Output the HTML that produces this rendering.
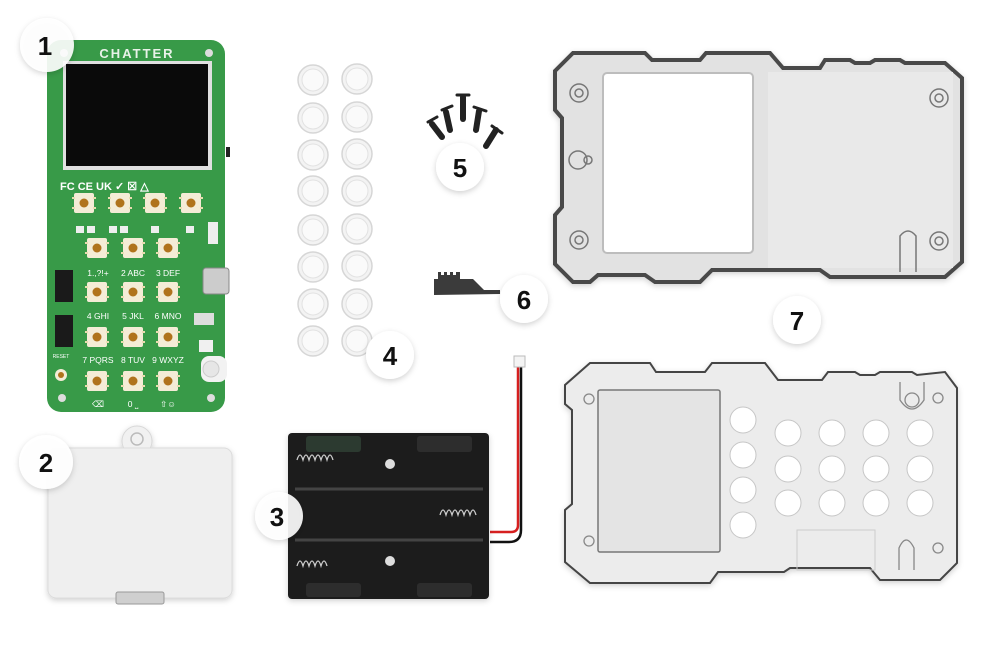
<!DOCTYPE html>
<html><head><meta charset="utf-8"><style>
html,body{margin:0;padding:0;background:#fff;width:1000px;height:649px;overflow:hidden}
svg{display:block;font-family:"Liberation Sans",sans-serif}
</style></head><body>
<svg width="1000" height="649" viewBox="0 0 1000 649" xmlns="http://www.w3.org/2000/svg">
<defs>
<filter id="sh" x="-30%" y="-30%" width="160%" height="160%"><feDropShadow dx="0" dy="2" stdDeviation="3" flood-color="#000" flood-opacity="0.18"/></filter>
<g id="btn"><rect x="-10" y="-10" width="20" height="20" rx="2" fill="#f4ecd6"/><rect x="-12" y="-6" width="3" height="2" fill="#e8dcb0"/><rect x="9" y="-6" width="3" height="2" fill="#e8dcb0"/><rect x="-12" y="4" width="3" height="2" fill="#e8dcb0"/><rect x="9" y="4" width="3" height="2" fill="#e8dcb0"/><circle r="4.5" fill="#b0731c"/></g>
<g id="dome"><circle r="15" fill="#f3f3f3" stroke="#d6d6d6" stroke-width="1.5"/><circle r="11" fill="#fafafa" stroke="#e2e2e2"/></g>
</defs>

<!-- PCB -->
<rect x="47" y="40" width="178" height="372" rx="14" fill="#389a48"/>
<text x="137" y="58" fill="#e8f2e8" font-size="13" font-weight="bold" text-anchor="middle" letter-spacing="2">CHATTER</text>
<circle cx="64" cy="53" r="4" fill="#ddd"/><circle cx="209" cy="53" r="4" fill="#ddd"/>
<circle cx="62" cy="398" r="4" fill="#ddd"/><circle cx="211" cy="398" r="4" fill="#ddd"/>
<rect x="63" y="61" width="149" height="109" fill="#e0e0e0"/>
<rect x="66" y="64" width="142" height="102" fill="#0a0a0a"/>
<rect x="226" y="147" width="4" height="10" fill="#222"/>
<text x="60" y="190" fill="#fff" font-size="11" font-weight="bold">FC CE UK ✓ ☒ △</text>
<use href="#btn" x="84" y="203"/><use href="#btn" x="120" y="203"/><use href="#btn" x="155" y="203"/><use href="#btn" x="191" y="203"/>
<g fill="#eee"><rect x="76" y="226" width="8" height="7"/><rect x="87" y="226" width="8" height="7"/><rect x="109" y="226" width="8" height="7"/><rect x="120" y="226" width="8" height="7"/><rect x="151" y="226" width="8" height="7"/><rect x="186" y="226" width="8" height="7"/></g>
<rect x="208" y="222" width="10" height="22" fill="#eee"/>
<g fill="#fff" font-size="8.5" text-anchor="middle">
<text x="98" y="276">1.,?!+</text><text x="133" y="276">2 ABC</text><text x="168" y="276">3 DEF</text>
<text x="98" y="319">4 GHI</text><text x="133" y="319">5 JKL</text><text x="168" y="319">6 MNO</text>
<text x="98" y="363">7 PQRS</text><text x="133" y="363">8 TUV</text><text x="168" y="363">9 WXYZ</text>
<text x="98" y="407">⌫</text><text x="133" y="407">0 ⎵</text><text x="168" y="407">⇧☺</text>
<text x="61" y="358" font-size="5">RESET</text>
</g>
<g>
<use href="#btn" x="97" y="248"/><use href="#btn" x="133" y="248"/><use href="#btn" x="168" y="248"/>
<use href="#btn" x="97" y="292"/><use href="#btn" x="133" y="292"/><use href="#btn" x="168" y="292"/>
<use href="#btn" x="97" y="337"/><use href="#btn" x="133" y="337"/><use href="#btn" x="168" y="337"/>
<use href="#btn" x="97" y="381"/><use href="#btn" x="133" y="381"/><use href="#btn" x="168" y="381"/>
</g>
<rect x="55" y="270" width="18" height="32" fill="#1a1a1a"/><rect x="55" y="315" width="18" height="32" fill="#1a1a1a"/>
<circle cx="61" cy="375" r="6" fill="#f4ecd6"/><circle cx="61" cy="375" r="3" fill="#b0731c"/>
<rect x="203" y="268" width="26" height="26" rx="3" fill="#ccc" stroke="#888"/>
<rect x="194" y="313" width="20" height="12" fill="#ddd"/>
<rect x="199" y="340" width="14" height="12" fill="#f0f0f0"/>
<rect x="201" y="356" width="26" height="26" rx="8" fill="#f2f2f2"/><circle cx="211" cy="369" r="8" fill="#e6e6e6" stroke="#ccc"/>

<!-- Cover 2 -->
<g filter="url(#sh)">
<circle cx="137" cy="441" r="15" fill="#f1f1f1" stroke="#d8d8d8"/>
<rect x="48" y="448" width="184" height="150" rx="8" fill="#efefef" stroke="#dcdcdc"/>
</g>
<circle cx="137" cy="439" r="6" fill="none" stroke="#bbb" stroke-width="1.5"/>
<rect x="116" y="592" width="48" height="12" rx="2" fill="#cfcfcf" stroke="#999"/>

<!-- Domes 4 -->
<g>
<use href="#dome" x="313" y="80"/><use href="#dome" x="357" y="79"/>
<use href="#dome" x="313" y="118"/><use href="#dome" x="357" y="117"/>
<use href="#dome" x="313" y="155"/><use href="#dome" x="357" y="154"/>
<use href="#dome" x="313" y="191"/><use href="#dome" x="357" y="191"/>
<use href="#dome" x="313" y="230"/><use href="#dome" x="357" y="229"/>
<use href="#dome" x="313" y="267"/><use href="#dome" x="357" y="266"/>
<use href="#dome" x="313" y="304"/><use href="#dome" x="357" y="304"/>
<use href="#dome" x="313" y="341"/><use href="#dome" x="357" y="341"/>
</g>

<!-- Screws 5 -->
<g stroke="#222" stroke-linecap="round">
<line x1="432" y1="124" x2="442" y2="137" stroke-width="6"/><line x1="428" y1="122" x2="437" y2="117" stroke-width="3"/>
<line x1="446" y1="112" x2="450" y2="130" stroke-width="6"/><line x1="442" y1="110" x2="452" y2="106" stroke-width="3"/>
<line x1="463" y1="97" x2="463" y2="119" stroke-width="6"/><line x1="457" y1="95" x2="469" y2="95" stroke-width="3"/>
<line x1="479" y1="111" x2="476" y2="130" stroke-width="6"/><line x1="474" y1="107" x2="486" y2="111" stroke-width="3"/>
<line x1="496" y1="130" x2="486" y2="146" stroke-width="6"/><line x1="492" y1="126" x2="502" y2="133" stroke-width="3"/>
</g>

<!-- Part 6 -->
<path d="M434 279 L438 279 L438 272 L441 272 L441 275 L444 275 L444 272 L447 272 L447 275 L450 275 L450 272 L453 272 L453 275 L456 275 L456 272 L460 272 L460 279 L473 279 L484 290 L500 290 L500 294 L434 295 Z" fill="#3b3b3b"/>

<!-- Battery holder 3 -->
<path d="M518 365 L518 525 Q518 532 511 532 L490 532" fill="none" stroke="#d61f1f" stroke-width="2.5"/>
<path d="M521 365 L521 530 Q521 542 509 542 L490 542" fill="none" stroke="#111" stroke-width="2.5"/>
<rect x="514" y="356" width="11" height="11" fill="#f4f4f4" stroke="#bbb"/>
<g filter="url(#sh)">
<rect x="288" y="433" width="201" height="166" rx="4" fill="#1c1c1c"/>
</g>
<rect x="306" y="436" width="55" height="16" rx="3" fill="#2c3a30"/>
<rect x="417" y="436" width="55" height="16" rx="3" fill="#2d2d2d"/>
<rect x="306" y="583" width="55" height="14" rx="3" fill="#2d2d2d"/>
<rect x="417" y="583" width="55" height="14" rx="3" fill="#2d2d2d"/>
<line x1="295" y1="489" x2="483" y2="489" stroke="#444" stroke-width="3"/>
<line x1="295" y1="540" x2="483" y2="540" stroke="#444" stroke-width="3"/>
<circle cx="390" cy="464" r="5" fill="#ddd"/><circle cx="390" cy="561" r="5" fill="#ddd"/>
<g fill="none" stroke="#ccc" stroke-width="1.3">
<path d="M297 460 q3 -10 6 0 q3 -10 6 0 q3 -10 6 0 q3 -10 6 0 q3 -10 6 0 q3 -10 6 0"/>
<path d="M440 515 q3 -10 6 0 q3 -10 6 0 q3 -10 6 0 q3 -10 6 0 q3 -10 6 0 q3 -10 6 0"/>
<path d="M297 566 q3 -10 6 0 q3 -10 6 0 q3 -10 6 0 q3 -10 6 0 q3 -10 6 0"/>
</g>

<!-- Top case 7 -->
<g filter="url(#sh)">
<path d="M573 53 L645 53 L652 60 L700 60 L706 53 L770 53 L783 68 L820 68 L825 60 L850 60 L855 63 L870 63 L875 60 L900 60 L905 63 L945 63 L962 78 L962 262 L945 277 L830 277 L820 270 L712 270 L700 282 L655 282 L645 275 L598 275 L590 282 L573 282 L555 264 L555 215 L562 207 L562 118 L555 110 L555 71 Z" fill="#e2e2e2" stroke="#4a4a4a" stroke-width="4"/>
</g>
<rect x="603" y="73" width="150" height="180" rx="4" fill="#fff" stroke="#bdbdbd" stroke-width="2"/>
<rect x="768" y="72" width="185" height="196" fill="#e9e9e9"/>
<g fill="none" stroke="#777" stroke-width="1.5">
<circle cx="579" cy="93" r="9"/><circle cx="579" cy="93" r="4"/>
<circle cx="578" cy="160" r="9"/><circle cx="588" cy="160" r="4"/>
<circle cx="579" cy="240" r="9"/><circle cx="579" cy="240" r="4"/>
<circle cx="939" cy="98" r="9"/><circle cx="939" cy="98" r="4"/>
<circle cx="939" cy="241" r="9"/><circle cx="939" cy="241" r="4"/>
<path d="M900 272 L900 236 Q908 226 916 236 L916 272"/>
</g>

<!-- Bottom case 7 -->
<g filter="url(#sh)">
<path d="M590 363 L650 363 L656 372 L705 372 L712 363 L765 363 L778 380 L822 380 L828 372 L855 372 L860 375 L875 375 L880 372 L912 372 L917 375 L945 372 L957 388 L957 563 L940 580 L880 580 L870 568 L790 568 L784 572 L718 572 L710 583 L590 583 L565 562 L565 510 L572 504 L572 410 L565 404 L565 385 Z" fill="#ececec" stroke="#444" stroke-width="2"/>
</g>
<rect x="598" y="390" width="122" height="162" rx="2" fill="#e4e4e4" stroke="#777" stroke-width="1.5"/>
<rect x="797" y="530" width="78" height="40" fill="none" stroke="#ccc"/>
<g fill="#fff" stroke="#c6c6c6">
<circle cx="743" cy="420" r="13"/><circle cx="743" cy="455" r="13"/><circle cx="743" cy="490" r="13"/><circle cx="743" cy="525" r="13"/>
<circle cx="788" cy="433" r="13"/><circle cx="832" cy="433" r="13"/><circle cx="876" cy="433" r="13"/><circle cx="920" cy="433" r="13"/>
<circle cx="788" cy="469" r="13"/><circle cx="832" cy="469" r="13"/><circle cx="876" cy="469" r="13"/><circle cx="920" cy="469" r="13"/>
<circle cx="788" cy="503" r="13"/><circle cx="832" cy="503" r="13"/><circle cx="876" cy="503" r="13"/><circle cx="920" cy="503" r="13"/>
</g>
<g fill="none" stroke="#888" stroke-width="1.3">
<circle cx="589" cy="399" r="5"/><circle cx="589" cy="541" r="5"/>
<circle cx="938" cy="398" r="5"/><circle cx="938" cy="548" r="5"/>
<path d="M900 382 L900 400 Q912 418 924 400 L924 382"/><circle cx="912" cy="400" r="7"/>
<path d="M899 570 L899 548 Q906 532 914 548 L914 570"/>
</g>

<!-- Labels -->
<g filter="url(#sh)" fill="#fff">
<circle cx="47" cy="45" r="27" fill-opacity="0.9"/>
<circle cx="46" cy="462" r="27" fill-opacity="0.95"/>
<circle cx="279" cy="516" r="24" fill-opacity="0.9"/>
<circle cx="390" cy="355" r="24"/>
<circle cx="460" cy="167" r="24"/>
<circle cx="524" cy="299" r="24"/>
<circle cx="797" cy="320" r="24"/>
</g>
<g font-size="26" font-weight="bold" fill="#111" text-anchor="middle">
<text x="45" y="55">1</text>
<text x="46" y="472">2</text>
<text x="277" y="526">3</text>
<text x="390" y="365">4</text>
<text x="460" y="177">5</text>
<text x="524" y="309">6</text>
<text x="797" y="330">7</text>
</g>
</svg>
</body></html>
